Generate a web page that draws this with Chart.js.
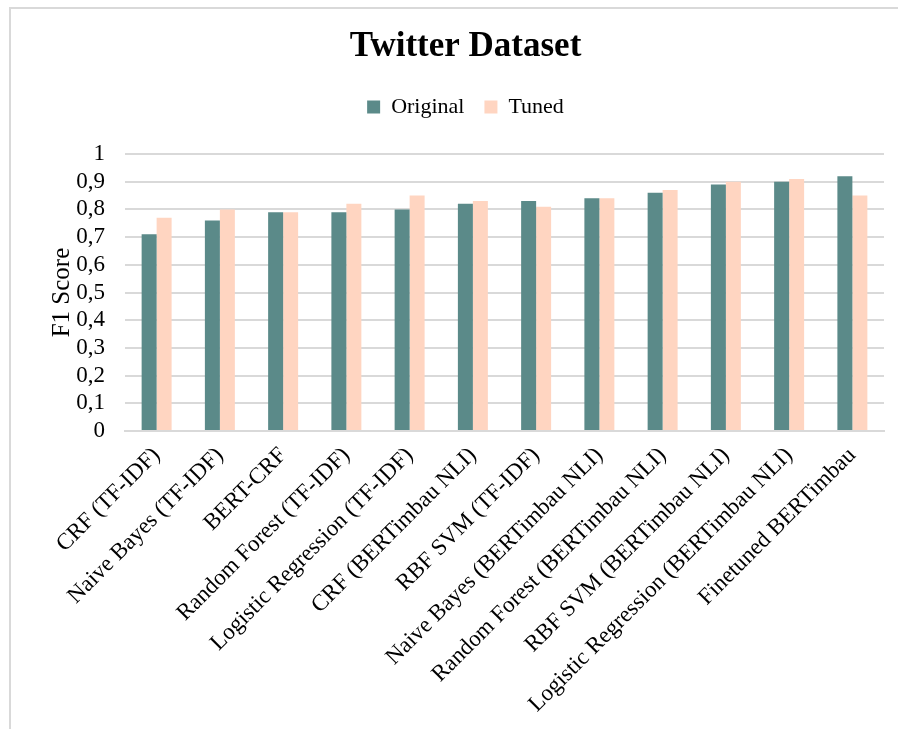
<!DOCTYPE html>
<html>
<head>
<meta charset="utf-8">
<script src="https://cdn.jsdelivr.net/npm/chart.js@4/dist/chart.umd.min.js"></script>
<style>
  html, body { margin: 0; padding: 0; background: #fff; overflow: hidden; width: 898px; height: 729px; }
  #frame { position: absolute; left: 9px; top: 7px; width: 904px; height: 730px;
           border-top: 2px solid #d9d9d9; border-left: 2px solid #d9d9d9; box-sizing: border-box; }
  #wrap { position: absolute; left: 5px; top: 7px; width: 904px; height: 722px; }
</style>
</head>
<body>
<div id="frame"></div>
<div id="wrap"><canvas id="c" width="904" height="722"></canvas></div>
<script>
const categories = [
  "CRF (TF-IDF)",
  "Naive Bayes (TF-IDF)",
  "BERT-CRF",
  "Random Forest (TF-IDF)",
  "Logistic Regression (TF-IDF)",
  "CRF (BERTimbau NLI)",
  "RBF SVM (TF-IDF)",
  "Naive Bayes (BERTimbau NLI)",
  "Random Forest (BERTimbau NLI)",
  "RBF SVM (BERTimbau NLI)",
  "Logistic Regression (BERTimbau NLI)",
  "Finetuned BERTimbau"
];
const originalValues = [0.71, 0.76, 0.79, 0.79, 0.80, 0.82, 0.83, 0.84, 0.86, 0.89, 0.90, 0.92];
const tunedValues    = [0.77, 0.80, 0.79, 0.82, 0.85, 0.83, 0.81, 0.84, 0.87, 0.90, 0.91, 0.85];
const seriesNames = ["Original", "Tuned"];
const chartTitle = "Twitter Dataset";
const yAxisTitle = "F1 Score";

const FONT = "'Liberation Serif', 'Times New Roman', serif";

const legendSpacer = {
  id: 'legendSpacer',
  beforeInit(chart) {
    const lg = chart.legend;
    const origFit = lg.fit;
    lg.fit = function () {
      origFit.call(this);
      this.height += 26;
    };
  }
};

new Chart(document.getElementById('c'), {
  type: 'bar',
  data: {
    labels: categories,
    datasets: [
      { label: seriesNames[0], data: originalValues, backgroundColor: '#5b8a89', borderWidth: 0 },
      { label: seriesNames[1], data: tunedValues, backgroundColor: '#ffd5c1', borderWidth: 0 }
    ]
  },
  plugins: [legendSpacer],
  options: {
    responsive: false,
    animation: false,
    devicePixelRatio: 1,
    layout: { padding: { left: 42, right: 25, top: 0, bottom: 0 } },
    datasets: { bar: { categoryPercentage: 0.474, barPercentage: 1.0 } },
    plugins: {
      title: {
        display: true,
        text: chartTitle,
        color: '#000',
        font: { family: FONT, size: 35, weight: 'bold' },
        padding: { top: 19, bottom: 8 }
      },
      legend: {
        display: true,
        position: 'top',
        labels: {
          color: '#000',
          font: { family: FONT, size: 22 },
          boxWidth: 13,
          boxHeight: 13,
          padding: 20,
          useBorderRadius: false
        }
      },
      tooltip: { enabled: false }
    },
    scales: {
      x: {
        grid: { display: false, drawTicks: false },
        border: { display: true, color: '#d9d9d9', width: 2 },
        ticks: {
          color: '#000',
          font: { family: FONT, size: 23 },
          minRotation: 45,
          maxRotation: 45,
          autoSkip: false,
          padding: 11
        },
        afterFit: (s) => { s.height = 298; }
      },
      y: {
        min: 0,
        max: 1,
        grid: { color: '#d9d9d9', lineWidth: 2, drawTicks: false },
        border: { display: false },
        ticks: {
          stepSize: 0.1,
          autoSkip: false,
          color: '#000',
          font: { family: FONT, size: 23 },
          padding: 20,
          callback: (v) => {
            const r = Math.round(v * 10) / 10;
            if (r === 0) return '0';
            if (r === 1) return '1';
            return r.toFixed(1).replace('.', ',');
          }
        },
        title: {
          display: true,
          text: yAxisTitle,
          color: '#000',
          font: { family: FONT, size: 25 },
          padding: { top: 0, bottom: 4 }
        },
        afterFit: (s) => { s.width = 78; }
      }
    }
  }
});
</script>
</body>
</html>
